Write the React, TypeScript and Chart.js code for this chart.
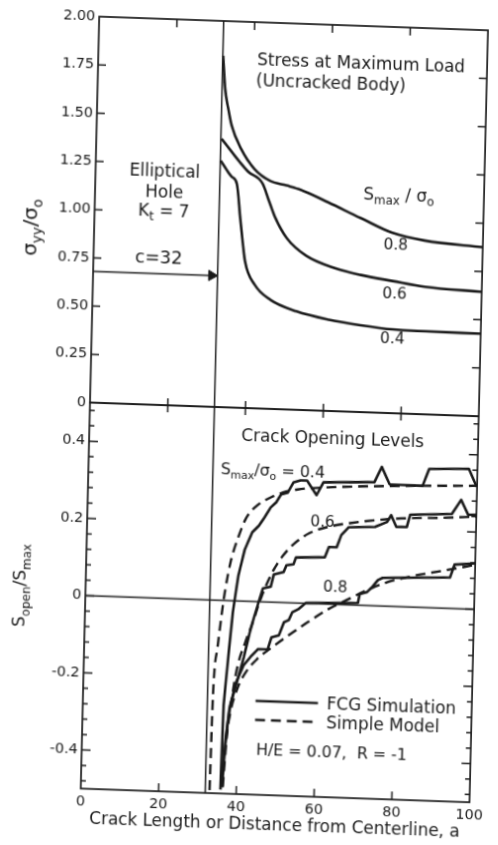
import React, { useEffect, useRef } from 'react';
import { Chart, registerables } from 'chart.js';

Chart.register(...registerables);

const FONT = '"DejaVu Sans", "Noto Sans", sans-serif';
const INK = '#1a1a1a';
const W = 498;
const H = 845;

// ---- axes ----
const xTicks = [0, 20, 40, 60, 80, 100];
const stressTicks = [0, 0.25, 0.5, 0.75, 1.0, 1.25, 1.5, 1.75, 2.0];
const openTicks = [-0.4, -0.2, 0, 0.2, 0.4];
const openMinorStep = 0.04;

const holeEdge = 32; // c = 32
const arrowLevel = 0.68;
const arrowTipX = 30.5;

// ---- top panel: stress at maximum load (sigma_yy / sigma_o) ----
const stress08: [number, number][] = [
  [32.1, 1.82], [32.8, 1.65], [33.7, 1.55], [34.7, 1.46], [37.3, 1.34], [40.8, 1.24],
  [45.0, 1.18], [49.2, 1.16], [52.9, 1.14], [60.0, 1.08], [68.4, 1.005], [76.7, 0.934],
  [85.0, 0.9], [100, 0.876],
];
const stress06: [number, number][] = [
  [32.2, 1.39], [39.2, 1.225], [43.0, 1.166], [44.7, 1.08], [46.5, 0.99], [49.6, 0.886],
  [54.6, 0.8], [62.2, 0.74], [68.8, 0.71], [77.1, 0.684], [85.4, 0.66], [100, 0.645],
];
const stress04: [number, number][] = [
  [32.1, 1.277], [35.0, 1.196], [36.4, 1.16], [37.5, 0.98], [39.0, 0.758], [41.6, 0.64],
  [45.8, 0.564], [52.5, 0.51], [60.8, 0.473], [69.1, 0.45], [77.4, 0.434], [85.7, 0.43],
  [100, 0.428],
];

// ---- bottom panel: crack opening levels (S_open / S_max) ----
const fcg04: [number, number][] = [
  [35.9, -0.49], [36.2, -0.271], [37.1, -0.147], [38.0, -0.03], [39.2, 0.066], [40.7, 0.134],
  [42.5, 0.179], [44.2, 0.197], [45.6, 0.219], [47.1, 0.245], [48.5, 0.259], [49.7, 0.28],
  [51.4, 0.285], [52.8, 0.312], [54.6, 0.318], [56.3, 0.318], [57.5, 0.3], [58.8, 0.281],
  [60.5, 0.315], [73.6, 0.32], [75.4, 0.36], [77.5, 0.316], [86.0, 0.315], [87.6, 0.359],
  [97.8, 0.363], [99.9, 0.317],
];
const model04: [number, number][] = [
  [33.1, -0.492], [33.4, -0.251], [34.3, -0.122], [35.2, -0.031], [36.0, 0.034], [37.1, 0.099],
  [38.9, 0.164], [40.9, 0.216], [43.6, 0.249], [46.5, 0.268], [50.2, 0.285], [53.9, 0.294],
  [61.3, 0.302], [78.6, 0.312], [100, 0.32],
];
const fcg06: [number, number][] = [
  [36.3, -0.483], [36.9, -0.36], [37.9, -0.27], [39.8, -0.198], [41.1, -0.145], [42.5, -0.08],
  [43.5, -0.04], [44.6, 0.0], [45.6, 0.035], [47.6, 0.04], [48.3, 0.072], [50.8, 0.079],
  [51.5, 0.097], [53.3, 0.1], [53.9, 0.118], [61.3, 0.121], [62.3, 0.148], [64.3, 0.148],
  [65.4, 0.18], [67.3, 0.201], [74.0, 0.204], [77.1, 0.218], [78.1, 0.236], [79.5, 0.206],
  [82.2, 0.207], [83.0, 0.239], [93.7, 0.245], [96.0, 0.282], [97.9, 0.244], [100, 0.245],
];
const model06: [number, number][] = [
  [36.5, -0.483], [37.2, -0.353], [38.3, -0.25], [39.6, -0.166], [41.4, -0.106], [43.2, -0.054],
  [44.8, -0.001], [46.4, 0.043], [48.3, 0.085], [50.6, 0.122], [53.5, 0.155], [57.2, 0.182],
  [61.6, 0.199], [67.7, 0.212], [78.8, 0.227], [91.2, 0.234], [100, 0.24],
];
const fcg08: [number, number][] = [
  [36.1, -0.483], [36.8, -0.379], [37.7, -0.281], [39.3, -0.21], [41.1, -0.166], [42.8, -0.144],
  [44.7, -0.123], [47.2, -0.122], [48.1, -0.091], [50.0, -0.085], [51.2, -0.051], [52.4, -0.045],
  [53.3, -0.024], [54.8, -0.016], [56.7, 0.001], [70.1, 0.006], [70.5, 0.029], [72.4, 0.035],
  [73.7, 0.049], [75.1, 0.067], [76.3, 0.073], [93.6, 0.08], [94.7, 0.114], [100, 0.119],
];
const model08: [number, number][] = [
  [36.3, -0.483], [37.0, -0.366], [38.0, -0.288], [39.6, -0.228], [41.7, -0.184], [44.5, -0.149],
  [48.4, -0.116], [52.5, -0.084], [57.4, -0.048], [62.2, -0.015], [67.1, 0.012], [72.0, 0.038],
  [76.9, 0.06], [83.0, 0.078], [91.7, 0.097], [100, 0.115],
];

type Seg = { t: string; sub?: boolean };
type Note = { segs: Seg[]; x: number; y: number; align: 'left' | 'center'; size: number; axis: 'yTop' | 'yBot' };

const notes: Note[] = [
  { segs: [{ t: 'Stress at Maximum Load' }], x: 40.9, y: 1.8, align: 'left', size: 17, axis: 'yTop' },
  { segs: [{ t: '(Uncracked Body)' }], x: 40.7, y: 1.69, align: 'left', size: 17, axis: 'yTop' },
  { segs: [{ t: 'S' }, { t: 'max', sub: true }, { t: ' / σ' }, { t: 'o', sub: true }], x: 69, y: 1.125, align: 'left', size: 17, axis: 'yTop' },
  { segs: [{ t: '0.8' }], x: 77.6, y: 0.866, align: 'center', size: 15.5, axis: 'yTop' },
  { segs: [{ t: '0.6' }], x: 77.6, y: 0.616, align: 'center', size: 15.5, axis: 'yTop' },
  { segs: [{ t: '0.4' }], x: 77.3, y: 0.382, align: 'center', size: 15.5, axis: 'yTop' },
  { segs: [{ t: 'Elliptical' }], x: 17.8, y: 1.207, align: 'center', size: 17, axis: 'yTop' },
  { segs: [{ t: 'Hole' }], x: 17.8, y: 1.1, align: 'center', size: 17, axis: 'yTop' },
  { segs: [{ t: 'K' }, { t: 't', sub: true }, { t: ' = 7' }], x: 17.8, y: 1.0, align: 'center', size: 17, axis: 'yTop' },
  { segs: [{ t: 'c=32' }], x: 16.8, y: 0.757, align: 'center', size: 18, axis: 'yTop' },
  { segs: [{ t: 'Crack Opening Levels' }], x: 62.6, y: 0.427, align: 'center', size: 17, axis: 'yBot' },
  { segs: [{ t: 'S' }, { t: 'max', sub: true }, { t: '/σ' }, { t: 'o', sub: true }, { t: ' = 0.4' }], x: 34, y: 0.338, align: 'left', size: 16, axis: 'yBot' },
  { segs: [{ t: '0.6' }], x: 60.5, y: 0.21, align: 'center', size: 15.5, axis: 'yBot' },
  { segs: [{ t: '0.8' }], x: 64.2, y: 0.043, align: 'center', size: 15.5, axis: 'yBot' },
  { segs: [{ t: 'H/E = 0.07,  R = -1' }], x: 44.8, y: -0.385, align: 'left', size: 16, axis: 'yBot' },
];

const legendItems = [
  { label: 'FCG Simulation', dashed: false },
  { label: 'Simple Model', dashed: true },
];
const legendAnchor = { x: 44.4, y: -0.257 };

const DASH = [10, 6];

// slight rotation/shear of the scanned page
const PAGE_TRANSFORM = 'matrix(0.9888, 0.0349, -0.0239, 0.9974, 14.7, -8.4)';

function drawRich(ctx: CanvasRenderingContext2D, segs: Seg[], x: number, y: number, size: number, align: 'left' | 'center', rot = 0) {
  ctx.save();
  ctx.translate(x, y);
  if (rot) ctx.rotate(rot);
  const main = `${size}px ${FONT}`;
  const small = `${Math.round(size * 0.7)}px ${FONT}`;
  let total = 0;
  for (const s of segs) {
    ctx.font = s.sub ? small : main;
    total += ctx.measureText(s.t).width;
  }
  let cx = align === 'center' ? -total / 2 : 0;
  ctx.textBaseline = 'middle';
  ctx.textAlign = 'left';
  ctx.fillStyle = INK;
  for (const s of segs) {
    ctx.font = s.sub ? small : main;
    ctx.fillText(s.t, cx, s.sub ? size * 0.32 : 0);
    cx += ctx.measureText(s.t).width;
  }
  ctx.restore();
}

const paperPlugin = {
  id: 'paper',
  beforeDraw(chart: any) {
    const ctx: CanvasRenderingContext2D = chart.ctx;
    ctx.save();
    ctx.fillStyle = '#ffffff';
    ctx.fillRect(0, 0, chart.width, chart.height);
    ctx.restore();
  },
  afterDraw(chart: any) {
    const ctx: CanvasRenderingContext2D = chart.ctx;
    const xs = chart.scales.x;
    const yT = chart.scales.yTop;
    const yB = chart.scales.yBot;
    const L = xs.left;
    const R = xs.right;
    const line = (x1: number, y1: number, x2: number, y2: number) => {
      ctx.beginPath();
      ctx.moveTo(x1, y1);
      ctx.lineTo(x2, y2);
      ctx.stroke();
    };
    ctx.save();
    ctx.strokeStyle = INK;
    ctx.lineWidth = 1.7;
    ctx.strokeRect(L, yT.top, R - L, yT.bottom - yT.top);
    ctx.strokeRect(L, yB.top, R - L, yB.bottom - yB.top);

    ctx.lineWidth = 1.5;
    for (const v of stressTicks) {
      if (v <= yT.min || v >= yT.max) continue;
      const py = yT.getPixelForValue(v);
      line(L, py, L + 8, py);
      line(R, py, R - 8, py);
    }
    const nMinor = Math.round((yB.max - yB.min) / openMinorStep);
    for (let i = 0; i <= nMinor; i++) {
      const val = Math.round((-0.48 + i * openMinorStep) * 100) / 100;
      if (val <= yB.min || val >= yB.max) continue;
      const major = openTicks.some((t) => Math.abs(t - val) < 1e-6);
      const len = major ? 9 : 5;
      const py = yB.getPixelForValue(val);
      line(L, py, L + len, py);
      line(R, py, R - len, py);
    }
    for (const v of xTicks) {
      if (v <= xs.min || v >= xs.max) continue;
      const px = xs.getPixelForValue(v);
      line(px, yT.top, px, yT.top + 8);
      line(px, yT.bottom - 7, px, yT.bottom + 7);
      line(px, yB.bottom, px, yB.bottom - 8);
    }

    // axis titles
    drawRich(ctx, [{ t: 'σ' }, { t: 'yy', sub: true }, { t: '/σ' }, { t: 'o', sub: true }], 23, (yT.top + yT.bottom) / 2 + 20, 20, 'center', -Math.PI / 2);
    drawRich(ctx, [{ t: 'S' }, { t: 'open', sub: true }, { t: '/S' }, { t: 'max', sub: true }], 21, (yB.top + yB.bottom) / 2 - 8, 17, 'center', -Math.PI / 2);

    // annotations
    for (const n of notes) {
      const sc = n.axis === 'yTop' ? yT : yB;
      drawRich(ctx, n.segs, xs.getPixelForValue(n.x), sc.getPixelForValue(n.y), n.size, n.align);
    }

    // legend
    const lx = xs.getPixelForValue(legendAnchor.x);
    let ly = yB.getPixelForValue(legendAnchor.y);
    for (const item of legendItems) {
      ctx.lineWidth = 2.6;
      ctx.setLineDash(item.dashed ? DASH : []);
      line(lx, ly, lx + 63, ly);
      ctx.setLineDash([]);
      drawRich(ctx, [{ t: item.label }], lx + 72, ly + 2, 17, 'left');
      ly += 19;
    }
    ctx.restore();
  },
};

const pts = (a: [number, number][]) => a.map(([x, y]) => ({ x, y }));

export default function App() {
  const ref = useRef<HTMLCanvasElement | null>(null);
  useEffect(() => {
    if (!ref.current) return;
    const curve = (data: [number, number][], axis: string, dashed: boolean, smooth: boolean) => ({
      data: pts(data),
      yAxisID: axis,
      borderColor: INK,
      borderWidth: dashed ? 2.4 : 2.6,
      borderDash: dashed ? DASH : [],
      pointRadius: 0,
      fill: false,
      cubicInterpolationMode: smooth ? 'monotone' : 'default',
      tension: 0,
      borderJoinStyle: 'round',
    });
    const thin = (data: { x: number; y: number }[], axis: string) => ({
      data,
      yAxisID: axis,
      borderColor: INK,
      borderWidth: 1.5,
      pointRadius: 0,
      fill: false,
    });
    const datasets: any[] = [
      curve(stress08, 'yTop', false, true),
      curve(stress06, 'yTop', false, true),
      curve(stress04, 'yTop', false, true),
      curve(fcg04, 'yBot', false, false),
      curve(model04, 'yBot', true, true),
      curve(fcg06, 'yBot', false, false),
      curve(model06, 'yBot', true, true),
      curve(fcg08, 'yBot', false, false),
      curve(model08, 'yBot', true, true),
      thin([{ x: holeEdge, y: 0 }, { x: holeEdge, y: 2 }], 'yTop'),
      thin([{ x: holeEdge, y: -0.5 }, { x: holeEdge, y: 0.5 }], 'yBot'),
      thin([{ x: 0, y: 0 }, { x: 100, y: 0 }], 'yBot'),
      {
        ...thin([{ x: 0, y: arrowLevel }, { x: arrowTipX, y: arrowLevel }], 'yTop'),
        pointRadius: [0, 6],
        pointStyle: 'triangle',
        rotation: 90,
        pointBackgroundColor: INK,
        pointBorderColor: INK,
        pointBorderWidth: 1,
      },
    ];
    const tickFont = { family: FONT, size: 14.5 };
    const chart = new Chart(ref.current, {
      type: 'line',
      data: { datasets },
      options: {
        animation: false,
        responsive: false,
        maintainAspectRatio: false,
        devicePixelRatio: 1,
        events: [],
        layout: { padding: { top: 22, right: 11, left: 0, bottom: 0 } },
        plugins: { legend: { display: false }, tooltip: { enabled: false } },
        scales: {
          x: {
            type: 'linear',
            min: 0,
            max: 100,
            grid: { display: false, drawTicks: false },
            border: { display: false },
            ticks: { font: tickFont, color: INK, padding: 5, maxRotation: 0, autoSkip: false, callback: (v: any) => String(v) },
            afterBuildTicks: (s: any) => { s.ticks = xTicks.map((v) => ({ value: v })); },
            title: { display: true, text: 'Crack Length or Distance from Centerline, a', font: { family: FONT, size: 17 }, color: INK, padding: { top: 0, bottom: 8 } },
            afterFit: (s: any) => { s.height = 49; },
          },
          yBot: {
            type: 'linear',
            position: 'left',
            stack: 'panels',
            stackWeight: 1,
            weight: 1,
            min: -0.5,
            max: 0.5,
            grid: { display: false, drawTicks: false },
            border: { display: false },
            ticks: { font: tickFont, color: INK, padding: 4, autoSkip: false, callback: (v: any) => (v === 0 ? '0' : Number(v).toFixed(1)) },
            afterBuildTicks: (s: any) => { s.ticks = openTicks.map((v) => ({ value: v })); },
            afterFit: (s: any) => { s.width = 86; },
          },
          yTop: {
            type: 'linear',
            position: 'left',
            stack: 'panels',
            stackWeight: 1,
            weight: 2,
            min: 0,
            max: 2,
            grid: { display: false, drawTicks: false },
            border: { display: false },
            ticks: { font: tickFont, color: INK, padding: 4, autoSkip: false, callback: (v: any) => (v === 0 ? '0' : Number(v).toFixed(2)) },
            afterBuildTicks: (s: any) => { s.ticks = stressTicks.map((v) => ({ value: v })); },
            afterFit: (s: any) => { s.width = 86; },
          },
        },
      } as any,
      plugins: [paperPlugin],
    });
    return () => chart.destroy();
  }, []);
  return (
    <div style={{ position: 'fixed', left: 0, top: 0, width: W, height: H, background: '#fff', overflow: 'hidden' }}>
      <div style={{ position: 'absolute', left: 0, top: 0, width: W, height: H, transform: PAGE_TRANSFORM, transformOrigin: '0 0' }}>
        <canvas ref={ref} width={W} height={H} style={{ display: 'block', width: W, height: H }} />
      </div>
    </div>
  );
}
